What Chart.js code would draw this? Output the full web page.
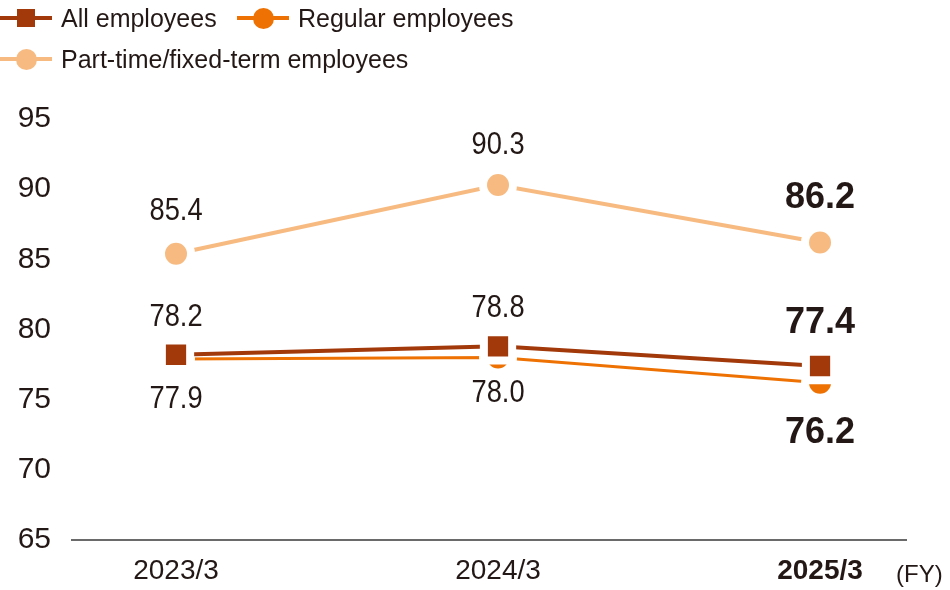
<!DOCTYPE html>
<html>
<head>
<meta charset="utf-8">
<script src="https://cdn.jsdelivr.net/npm/chart.js@4.4.0/dist/chart.umd.min.js"></script>
<style>
  body { margin: 0; background: #fff; }
  .wrap { position: relative; width: 950px; height: 590px; font-family: "Liberation Sans", Arial, sans-serif; color: #231815; }
  canvas { position: absolute; left: 0; top: 0; }
  .item { position: absolute; height: 40px; font-size: 25px; line-height: 40px; white-space: nowrap; }
  .item .ln { position: absolute; left: 0; top: 18px; width: 52px; height: 4px; }
  .item .mk { position: absolute; }
  .item .sq { left: 17px; top: 11px; width: 18px; height: 18px; }
  .item .ci { left: 16px; top: 10px; width: 21px; height: 21px; border-radius: 50%; }
  .item .tx { position: absolute; left: 61px; top: 0; }
</style>
</head>
<body>
<div class="wrap">
  <canvas id="c" width="950" height="590"></canvas>
  <div id="legend"></div>
</div>
<script>
var categories = ['2023/3', '2024/3', '2025/3'];
var allEmployees = [78.2, 78.8, 77.4];
var regularEmployees = [77.9, 78.0, 76.2];
var partTimeEmployees = [85.4, 90.3, 86.2];
var yTicks = [65, 70, 75, 80, 85, 90, 95];

var colors = {
  all: '#a2390a',
  regular: '#ee7203',
  part: '#f7bb82',
  text: '#231815'
};

function points(values) {
  var ret = [];
  for (var i = 0, l = values.length; i < l; i++) {
    ret.push({ x: i, y: values[i] });
  }
  return ret;
}

// legend (html)
var legendItems = [
  { label: 'All employees', color: colors.all, marker: 'sq', left: 0, top: -2 },
  { label: 'Regular employees', color: colors.regular, marker: 'ci', left: 237, top: -2 },
  { label: 'Part-time/fixed-term employees', color: colors.part, marker: 'ci', left: 0, top: 39 }
];
var legend = document.getElementById('legend');
for (var i = 0; i < legendItems.length; i++) {
  var it = legendItems[i];
  var d = document.createElement('div');
  d.className = 'item';
  d.style.left = it.left + 'px';
  d.style.top = it.top + 'px';
  d.innerHTML = '<span class="ln" style="background:' + it.color + '"></span>' +
    '<span class="mk ' + it.marker + '" style="background:' + it.color + '"></span>' +
    '<span class="tx">' + it.label + '</span>';
  legend.appendChild(d);
}

// value labels: offset from point, bold for the latest year
var labelOffsets = [
  [-37, -38, -43],
  [40, 36, 50],
  [-42, -40, -44]
];

var valueLabels = {
  id: 'valueLabels',
  afterDatasetsDraw: function(chart) {
    var ctx = chart.ctx;
    ctx.save();
    ctx.fillStyle = colors.text;
    ctx.textAlign = 'center';
    ctx.textBaseline = 'middle';
    chart.data.datasets.forEach(function(ds, di) {
      var meta = chart.getDatasetMeta(di);
      meta.data.forEach(function(pt, i) {
        var txt = ds.data[i].y.toFixed(1);
        var y = pt.y + labelOffsets[di][i];
        if (i === categories.length - 1) {
          ctx.font = 'bold 36px "Liberation Sans", Arial, sans-serif';
          ctx.fillText(txt, pt.x, y);
        } else {
          ctx.font = '31px "Liberation Sans", Arial, sans-serif';
          ctx.save();
          ctx.translate(pt.x, y);
          ctx.scale(0.88, 1);
          ctx.fillText(txt, 0, 0);
          ctx.restore();
        }
      });
    });
    // unit
    ctx.font = '24px "Liberation Sans", Arial, sans-serif';
    ctx.textAlign = 'left';
    ctx.fillText('(FY)', chart.chartArea.right - 10, chart.chartArea.bottom + 35);
    ctx.restore();
  }
};

new Chart(document.getElementById('c'), {
  type: 'line',
  data: {
    datasets: [
      {
        label: 'All employees',
        data: points(allEmployees),
        borderColor: colors.all,
        backgroundColor: colors.all,
        borderWidth: 4,
        pointStyle: 'rect',
        pointRadius: 20,
        pointBorderColor: '#fff',
        pointBorderWidth: 8,
        pointBackgroundColor: colors.all
      },
      {
        label: 'Regular employees',
        data: points(regularEmployees),
        borderColor: colors.regular,
        backgroundColor: colors.regular,
        borderWidth: 3,
        pointStyle: 'circle',
        pointRadius: 15,
        pointBorderColor: '#fff',
        pointBorderWidth: 8,
        pointBackgroundColor: colors.regular
      },
      {
        label: 'Part-time/fixed-term employees',
        data: points(partTimeEmployees),
        borderColor: colors.part,
        backgroundColor: colors.part,
        borderWidth: 4,
        pointStyle: 'circle',
        pointRadius: 15,
        pointBorderColor: '#fff',
        pointBorderWidth: 8,
        pointBackgroundColor: colors.part
      }
    ]
  },
  options: {
    responsive: false,
    animation: false,
    events: [],
    layout: { padding: { top: 119, right: 44, left: 0, bottom: 0 } },
    plugins: {
      legend: { display: false },
      tooltip: { enabled: false }
    },
    elements: { line: { tension: 0 } },
    scales: {
      x: {
        type: 'linear',
        min: -0.323,
        max: 2.267,
        afterBuildTicks: function(scale) {
          scale.ticks = categories.map(function(c, i) { return { value: i }; });
        },
        afterFit: function(scale) { scale.height = 50; },
        grid: { display: false, drawTicks: false },
        border: { display: true, color: '#6a6a6a', width: 2 },
        ticks: {
          padding: 14,
          color: colors.text,
          maxRotation: 0,
          autoSkip: false,
          font: function(ctx) {
            return {
              family: '"Liberation Sans", Arial, sans-serif',
              size: 28,
              weight: ctx.index === categories.length - 1 ? 'bold' : 'normal'
            };
          },
          callback: function(v) { return categories[v]; }
        }
      },
      y: {
        min: yTicks[0],
        max: yTicks[yTicks.length - 1],
        afterBuildTicks: function(scale) {
          scale.ticks = yTicks.map(function(v) { return { value: v }; });
        },
        afterFit: function(scale) { scale.width = 72; },
        grid: { display: false, drawTicks: false },
        border: { display: false },
        ticks: {
          padding: 21,
          color: colors.text,
          font: { family: '"Liberation Sans", Arial, sans-serif', size: 30 }
        }
      }
    }
  },
  plugins: [valueLabels]
});
</script>
</body>
</html>
